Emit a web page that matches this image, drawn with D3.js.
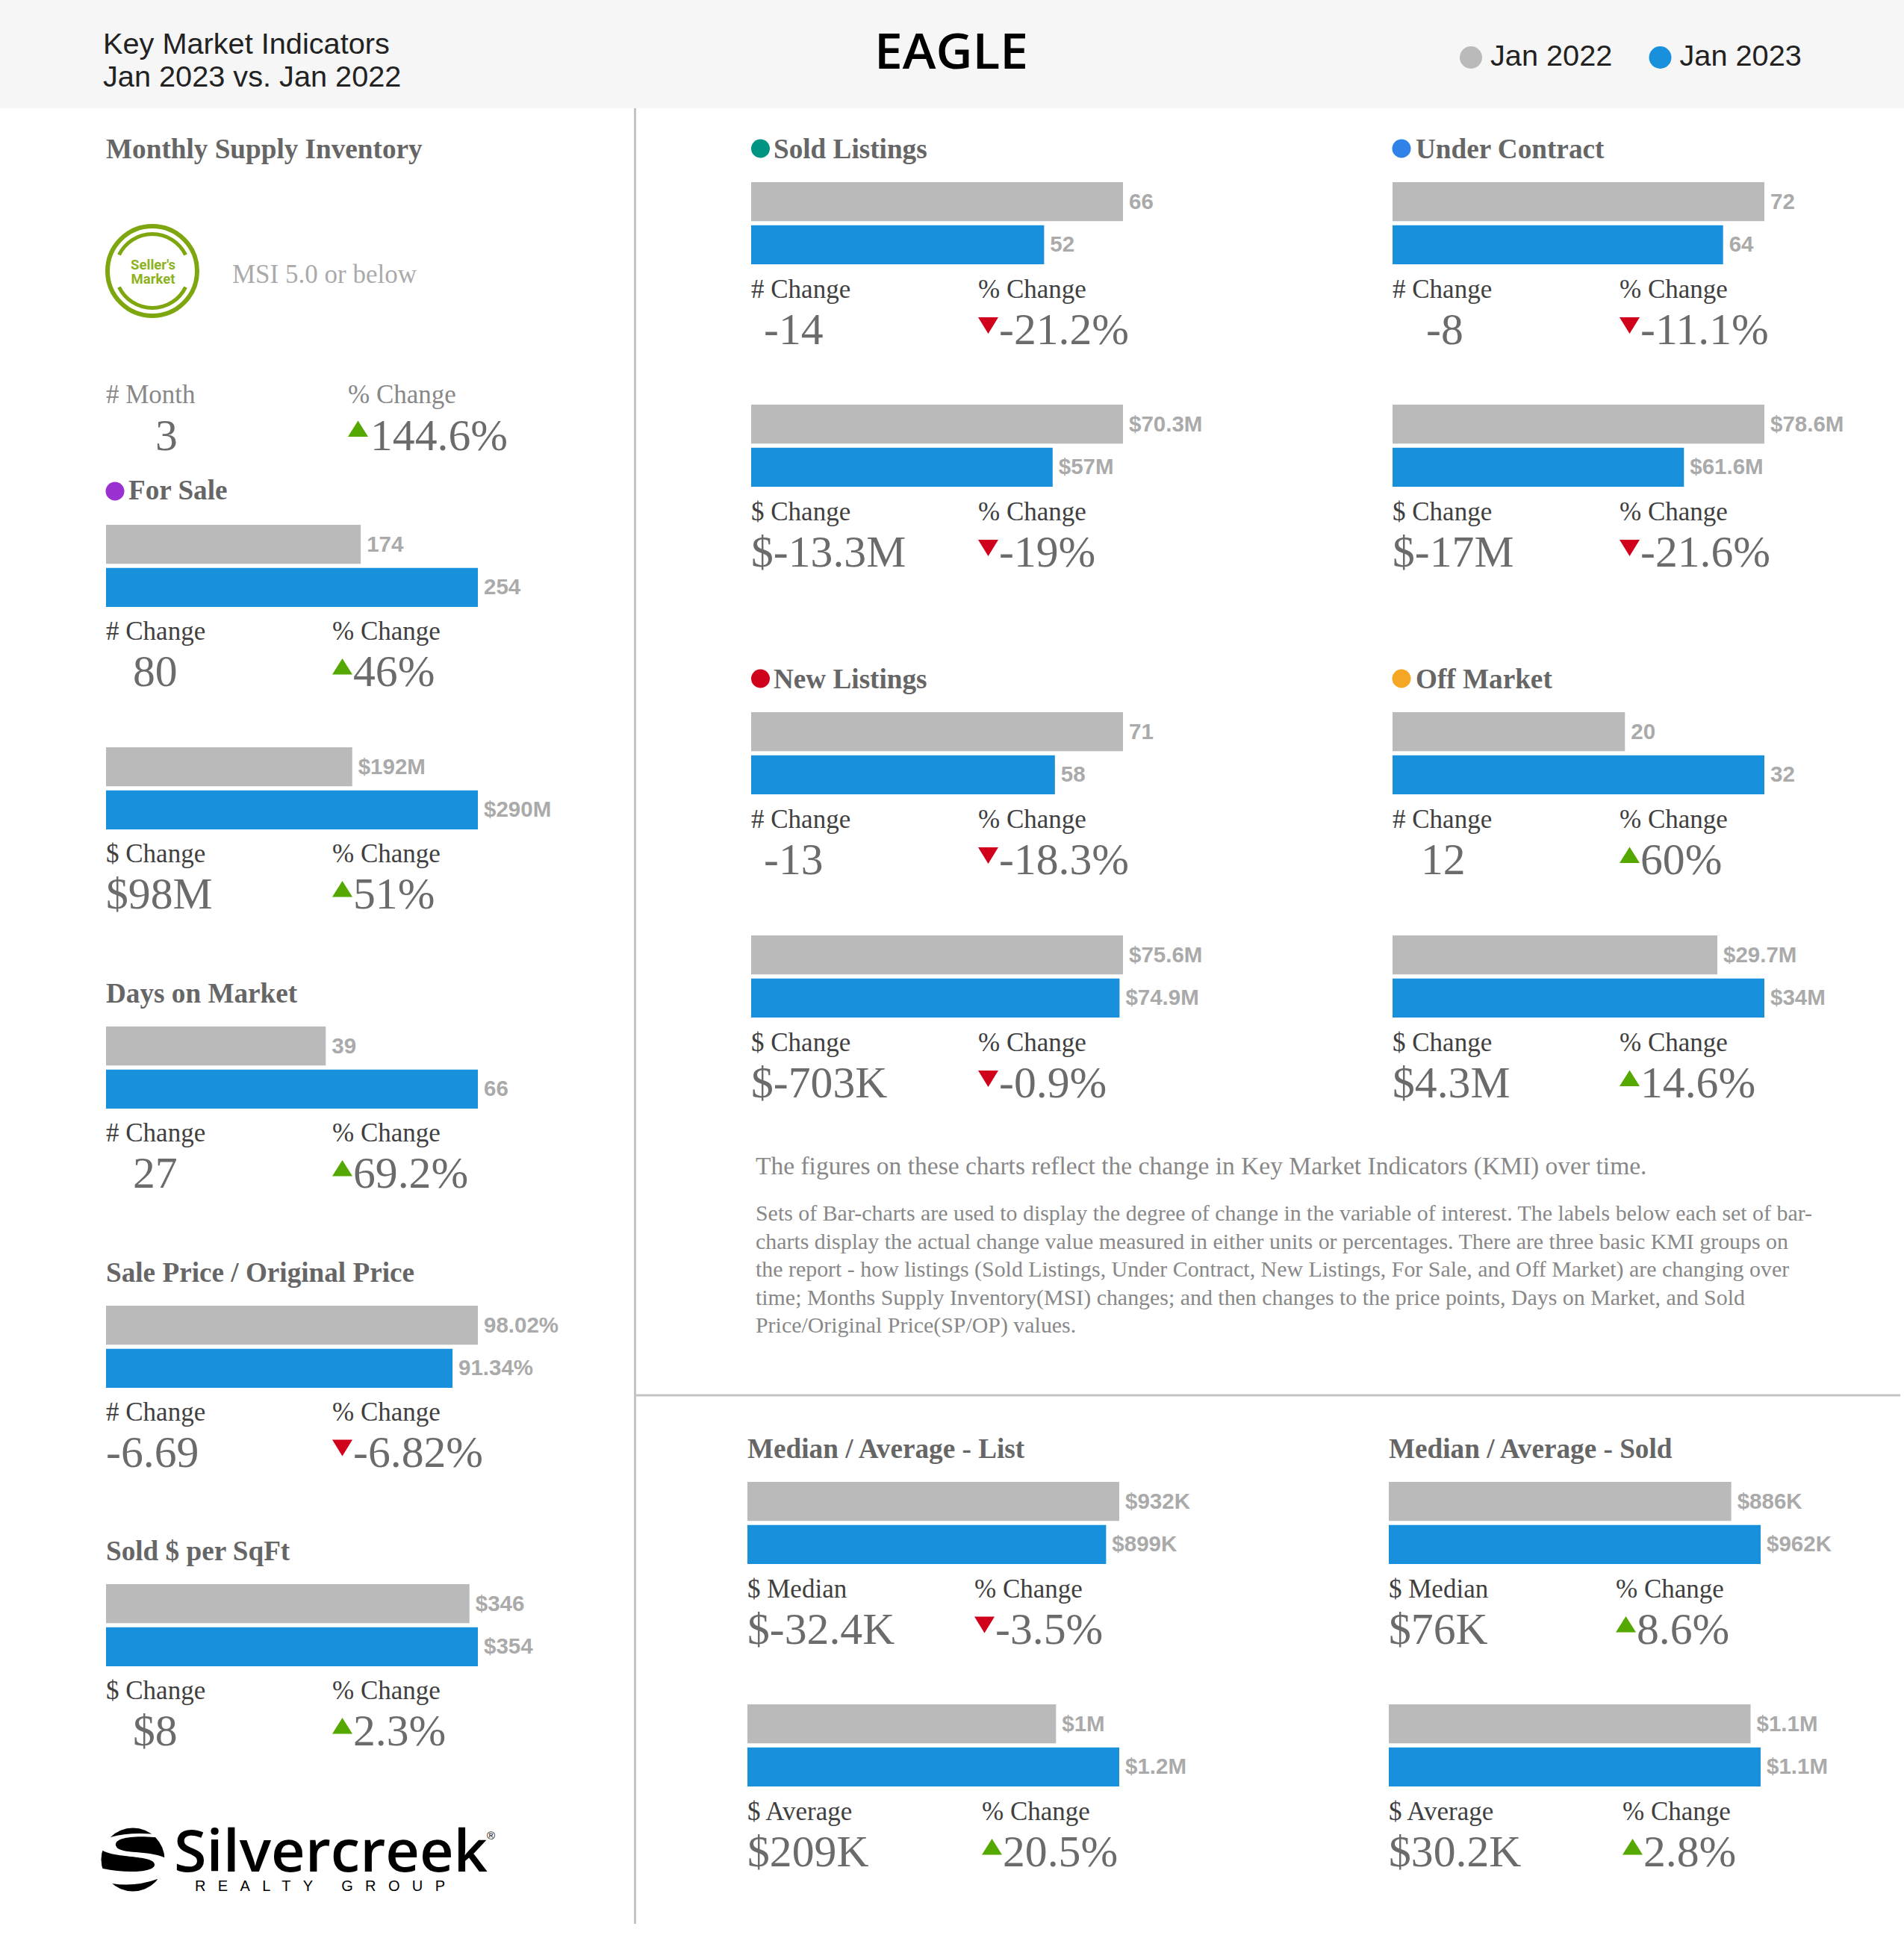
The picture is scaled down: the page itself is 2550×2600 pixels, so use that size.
<!DOCTYPE html>
<html><head><meta charset="utf-8">
<script src="https://cdn.jsdelivr.net/npm/d3@7"></script>
<style>html,body{margin:0;padding:0;background:#fff}svg{display:block}</style>
</head><body><div id="chart"></div>
<script>
// ---------- data ----------
const seriesNames = ["Jan 2022", "Jan 2023"];
const jan2022Values = [174,192,39,98.02,346,66,70.3,72,78.6,71,75.6,20,29.7,932,1.02,886,1.079];
const jan2023Values = [254,290,66,91.34,354,52,57,64,61.6,58,74.9,32,34,899,1.229,962,1.109];
const jan2022Labels = ["174","$192M","39","98.02%","$346","66","$70.3M","72","$78.6M","71","$75.6M","20","$29.7M","$932K","$1M","$886K","$1.1M"];
const jan2023Labels = ["254","$290M","66","91.34%","$354","52","$57M","64","$61.6M","58","$74.9M","32","$34M","$899K","$1.2M","$962K","$1.1M"];
const changeHeaders = ["# Change","$ Change","# Change","# Change","$ Change","# Change","$ Change","# Change","$ Change","# Change","$ Change","# Change","$ Change","$ Median","$ Average","$ Median","$ Average"];
const changeValues = ["80","$98M","27","-6.69","$8","-14","$-13.3M","-8","$-17M","-13","$-703K","12","$4.3M","$-32.4K","$209K","$76K","$30.2K"];
const percentValues = ["46%","51%","69.2%","-6.82%","2.3%","-21.2%","-19%","-11.1%","-21.6%","-18.3%","-0.9%","60%","14.6%","-3.5%","20.5%","8.6%","2.8%"];
const titles = ["Monthly Supply Inventory","Days on Market","Sale Price / Original Price","Sold $ per SqFt","Median / Average - List","Median / Average - Sold"];
const dotTitles = ["For Sale","Sold Listings","Under Contract","New Listings","Off Market"];
const msiValues = ["3","144.6%"];
const para1 = "The figures on these charts reflect the change in Key Market Indicators (KMI) over time.";
const para2 = ["Sets of Bar-charts are used to display the degree of change in the variable of interest. The labels below each set of bar-",
"charts display the actual change value measured in either units or percentages. There are three basic KMI groups on",
"the report - how listings (Sold Listings, Under Contract, New Listings, For Sale, and Off Market) are changing over",
"time; Months Supply Inventory(MSI) changes; and then changes to the price points, Days on Market, and Sold",
"Price/Original Price(SP/OP) values."];

// ---------- layout ----------
const groupLeft = [142,142,142,142,142,1006,1006,1865,1865,1006,1006,1865,1865,1001,1001,1860,1860];
const groupTop  = [703,1001,1375,1749,2122,244,542,244,542,954,1253,954,1253,1985,2283,1985,2283];
const valueOffset = [36,0,36,0,36,17,0,45,0,17,0,38,0,0,0,0,0];
const pctOffset = [303,303,303,303,303,304,304,304,304,304,304,304,304,304,314,304,313];
const valueBaseline = [215.5,215.5,215.5,215.5,215.5,217,217,217,217,217,217,217,217,216.5,216.5,216.5,216.5];
const titlePos = [[142,212],[142,1343],[142,1717],[142,2090],[1001,1953],[1860,1953]];
const dotPos = [[154,658,172,669,"#9b30d0"],[1018.5,199,1036,212,"#009482"],[1877,199,1896,212,"#2e82e8"],[1018.5,909,1036,922,"#d0021b"],[1877,909,1896,922,"#f5a623"]];

const W = 2550, H = 2600;
const GREY = "#bababa", BLUE = "#1890db", UP = "#55a800", DOWN = "#d0021b";
const SERIF = "'Liberation Serif',serif", SANS = "'Liberation Sans',sans-serif";

const svg = d3.select("#chart").append("svg").attr("width", W).attr("height", H).attr("viewBox", `0 0 ${W} ${H}`);
svg.append("rect").attr("width", W).attr("height", H).attr("fill", "#fff");
svg.append("rect").attr("width", W).attr("height", 145).attr("fill", "#f6f6f6");

function txt(x, y, s, size, fill, o = {}) {
  return svg.append("text").attr("x", x).attr("y", y).text(s)
    .attr("font-size", size).attr("fill", fill)
    .attr("font-family", o.family || SERIF)
    .attr("font-weight", o.weight || "normal")
    .attr("text-anchor", o.anchor || "start");
}

// header
txt(138, 72, "Key Market Indicators", 39.7, "#222", {family: SANS});
txt(138, 116, "Jan 2023 vs. Jan 2022", 39.7, "#222", {family: SANS});
txt(1274, 92, "EAGLE", 66, "#000", {family: "'Open Sans',sans-serif", weight: 600, anchor: "middle"}).attr("textLength", 206).attr("lengthAdjust", "spacingAndGlyphs");
const legendX = d3.scaleOrdinal().domain(seriesNames).range([1970, 2223.5]);
seriesNames.forEach((n, i) => {
  svg.append("circle").attr("cx", legendX(n)).attr("cy", 77).attr("r", 15).attr("fill", i ? BLUE : GREY);
  txt(legendX(n) + 26, 88, n, 39.7, "#222", {family: SANS});
});

// dividers
svg.append("line").attr("x1", 850.5).attr("x2", 850.5).attr("y1", 145).attr("y2", 2577).attr("stroke", "#c4c4c4").attr("stroke-width", 3);
svg.append("line").attr("x1", 851).attr("x2", 2545).attr("y1", 1869).attr("y2", 1869).attr("stroke", "#c4c4c4").attr("stroke-width", 3);

// titles
titles.forEach((t, i) => txt(titlePos[i][0], titlePos[i][1], t, 37.2, "#666", {weight: 700}));
dotTitles.forEach((t, i) => {
  const p = dotPos[i];
  svg.append("circle").attr("cx", p[0]).attr("cy", p[1]).attr("r", 12.5).attr("fill", p[4]);
  txt(p[2], p[3], t, 37.2, "#666", {weight: 700});
});

function triangle(x, base, up, shift = 0) {
  const path = d3.path();
  if (up) { path.moveTo(x, base - 15 + shift); path.lineTo(x + 13.5, base - 36.5 + shift); path.lineTo(x + 27, base - 15 + shift); }
  else { path.moveTo(x, base - 36); path.lineTo(x + 27, base - 36); path.lineTo(x + 13.5, base - 14); }
  path.closePath();
  svg.append("path").attr("d", path.toString()).attr("fill", up ? UP : DOWN);
}

// bar groups
const xRange = [0, 498];
const yBand = d3.scaleBand().domain(seriesNames).range([0, 110]).paddingInner(5.5 / 57.75);
jan2022Values.forEach((a, i) => {
  const b = jan2023Values[i];
  const x = d3.scaleLinear().domain([0, Math.max(a, b)]).range(xRange);
  const g = svg.append("g").attr("transform", `translate(${groupLeft[i]},${groupTop[i]})`);
  const rows = [{s: seriesNames[0], v: a, l: jan2022Labels[i], c: GREY}, {s: seriesNames[1], v: b, l: jan2023Labels[i], c: BLUE}];
  g.selectAll("rect").data(rows).join("rect")
    .attr("x", 0).attr("y", d => yBand(d.s)).attr("width", d => x(d.v)).attr("height", yBand.bandwidth()).attr("fill", d => d.c);
  g.selectAll("text").data(rows).join("text")
    .attr("x", d => x(d.v) + 8).attr("y", d => yBand(d.s) + 35.5)
    .attr("font-family", SANS).attr("font-weight", 700).attr("font-size", 29.5).attr("fill", "#aaa")
    .text(d => d.l);
  const L = groupLeft[i], T = groupTop[i], px = L + pctOffset[i], up = !percentValues[i].startsWith("-");
  const rightCol = i > 4;
  txt(L, T + (rightCol ? 155 : 154), changeHeaders[i], 35, "#404040");
  txt(px, T + (rightCol ? 155 : 154), "% Change", 35, "#404040");
  const base = T + valueBaseline[i];
  txt(L + valueOffset[i], base, changeValues[i], 59.7, "#6b6b6b");
  triangle(px, base, up);
  txt(px + 28, base, percentValues[i], 59.7, "#6b6b6b");
});

// MSI block
txt(311, 379, "MSI 5.0 or below", 35, "#aaa");
txt(142, 540, "# Month", 35, "#888");
txt(466, 540, "% Change", 35, "#888");
txt(208, 603, msiValues[0], 59.7, "#6b6b6b");
triangle(466, 603, true, -3);
txt(496, 603, msiValues[1], 59.7, "#6b6b6b");

// seller's market badge
const ring = "#7ea60f";
svg.append("circle").attr("cx", 204).attr("cy", 363).attr("r", 60).attr("fill", "none").attr("stroke", ring).attr("stroke-width", 6);
const arc = d3.arc().innerRadius(47).outerRadius(52);
svg.append("path").attr("transform", "translate(204,363)").attr("fill", ring).attr("d", arc({startAngle: -1.12, endAngle: 1.12}));
svg.append("path").attr("transform", "translate(204,363)").attr("fill", ring).attr("d", arc({startAngle: Math.PI - 1.12, endAngle: Math.PI + 1.12}));
txt(205, 361, "Seller's", 18.5, "#8cb21e", {family: "Roboto,sans-serif", weight: 700, anchor: "middle"});
txt(205, 380, "Market", 18.5, "#8cb21e", {family: "Roboto,sans-serif", weight: 700, anchor: "middle"});

// explanatory text
txt(1012, 1573, para1, 33.5, "#888");
para2.forEach((l, i) => txt(1012, 1635 + i * 37.5, l, 29.9, "#888"));

// logo
const defs = svg.append("defs");
defs.append("clipPath").attr("id", "globe").append("circle").attr("cx", 178).attr("cy", 2491).attr("r", 42.5);
const globe = svg.append("g").attr("clip-path", "url(#globe)").attr("fill", "#000");
["M130 2440H226V2459Q178 2452 148 2461Z",
 "M207 2461C170 2458 150 2464 156 2474C162 2484 200 2478 222 2489L230 2489V2462Z",
 "M135 2477C150 2490 205 2484 207 2497C209 2508 170 2510 138 2503L130 2503V2477Z",
 "M150 2523Q180 2528 211 2517L215 2540H145Z"].forEach(d => globe.append("path").attr("d", d));
txt(233, 2507, "Silvercreek", 78, "#000", {family: "'Open Sans',sans-serif", weight: 600}).attr("textLength", 420).attr("lengthAdjust", "spacingAndGlyphs");
txt(652, 2464, "®", 15, "#000", {family: SANS});
txt(261, 2533, "REALTY GROUP", 20, "#000", {family: SANS}).attr("textLength", 335).attr("lengthAdjust", "spacing");
</script></body></html>
